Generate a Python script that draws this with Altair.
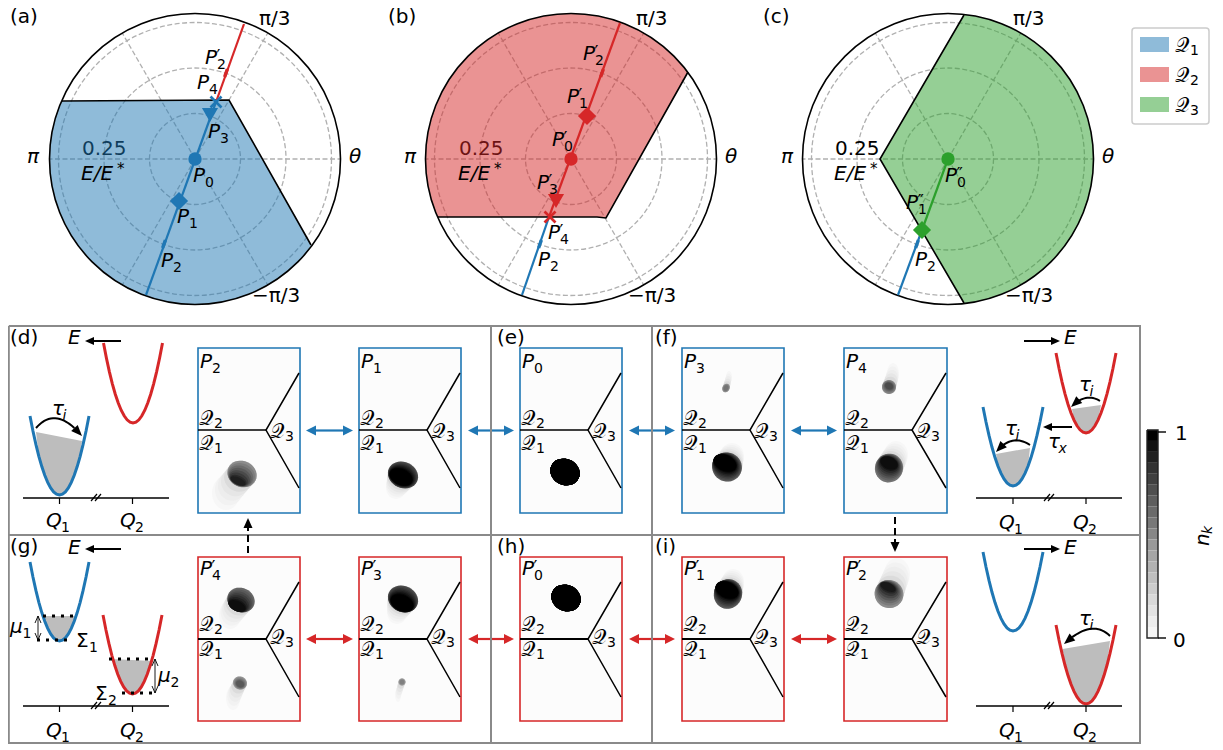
import math
import altair as alt

BLUE, RED, GREEN = "#1f77b4", "#d62728", "#2ca02c"
GRIDC, FRAMEC, GRAYFILL = "#b0b0b0", "#8a8a8a", "#bdbdbd"
FONT = "DejaVu Sans"
SCRIPT_Q = "\U0001D4AC"
FS, SS = 20, 14

# ---------- polar panels: centre x, region outline, trajectories
CY, R = 159, 145.5
RINGS = [45.5, 91, 136.5]
RAYS = [0, 60, 120, 180, 240, 300]
POLAR_CX = [195, 571, 948]
REGION_A = dict(c=BLUE, corner=[(62, 101), (229, 100), (311, 245)], a0=(311, 245), a1=(62, 101), cw=True)
REGION_B = dict(c=RED, corner=[(688, 72), (606, 218), (597, 217), (438, 217)], a0=(438, 217), a1=(688, 72), cw=True)
REGION_C = dict(c=GREEN, corner=[(964, 15), (880, 159), (964, 303)], a0=(964, 303), a1=(964, 15), cw=False)
TRAJ = [
    (BLUE, [(146, 295), (216, 102)]), (RED, [(216, 102), (244, 24)]),
    (BLUE, [(522, 295), (549, 217)]), (RED, [(549, 217), (620, 23)]),
    (GREEN, [(948, 159), (922, 230)]), (BLUE, [(922, 230), (898, 295)]),
]
MARKS = [
    (195, 159, "circle", BLUE), (179, 201, "diamond", BLUE), (210, 115, "triangle-down", BLUE),
    (571, 159, "circle", RED), (587, 116, "diamond", RED), (556, 201, "triangle-down", RED),
    (948, 159, "circle", GREEN), (922, 230, "diamond", GREEN),
]
MARK_SIZE = {"circle": 180, "diamond": 330, "triangle-down": 260}
CROSSES = [(216, 102, BLUE), (550, 217, RED)]
TINY = [(164, 244, BLUE), (226, 73, RED), (602, 73, RED), (540, 244, BLUE), (917, 244, BLUE)]

# ---------- inner panels: x0, x1, y0, y1, colour, label
PANELS = [
    (198, 300, 348, 513, BLUE, "P", "2", ""), (359, 461, 348, 513, BLUE, "P", "1", ""),
    (520, 622, 348, 513, BLUE, "P", "0", ""), (682, 784, 348, 513, BLUE, "P", "3", ""),
    (844, 947, 348, 513, BLUE, "P", "4", ""),
    (198, 300, 557, 721, RED, "P", "4", "\u2032"), (359, 461, 557, 721, RED, "P", "3", "\u2032"),
    (520, 622, 557, 721, RED, "P", "0", "\u2032"), (682, 784, 557, 721, RED, "P", "1", "\u2032"),
    (844, 947, 557, 721, RED, "P", "2", "\u2032"),
]
# body (x,y,rx,ry), core (x,y,rx,ry), tail (x,y,rx,ry), grey edge, grey core
BLOBS = [
    ((242, 474, 15, 13), (238, 481, 8, 3.5), (226, 493, 14, 17), .55, .12),
    ((403, 475, 15.5, 13), (401, 477, 12, 8), (396, 488, 10, 11), .3, .0),
    ((565, 472, 15, 13), (565, 472, 15, 13), None, .0, .0),
    ((726, 388, 3.5, 4.5), (726, 388, 2, 2.5), (729, 377, 3, 6), .6, .45),
    ((727, 467, 15, 14.5), (725, 463, 12, 8), (732, 456, 12, 13), .35, .0),
    ((889, 387, 7, 7), (889, 386, 4, 3), (893, 374, 6, 11), .55, .3),
    ((889, 468, 14, 14.5), (889, 463, 9, 6), (896, 455, 12, 14), .45, .05),
    ((241, 600, 14, 12), (237, 606, 9, 5), (230, 615, 11, 14), .4, .05),
    ((240, 683, 7, 6.5), (240, 684, 4, 3), (233, 698, 7, 12), .6, .35),
    ((403, 599, 15.5, 13), (402, 603, 12, 8), (397, 612, 10, 12), .3, .0),
    ((402, 682, 3.5, 3.5), (402, 682, 2, 2), (398, 695, 3, 7), .65, .5),
    ((566, 598, 15, 13), (566, 598, 15, 13), None, .0, .0),
    ((728, 594, 14, 15), (727, 590, 12, 8), (733, 582, 11, 13), .35, .0),
    ((889, 594, 14.5, 14), (888, 587, 8, 4), (897, 574, 13, 16), .55, .1),
]
BLOB_TILT = 25
TAIL_GREYS = [.97, .95, .93, .9, .86, .8]
BODY_STEPS = [0, .15, .3, .45, .6, .75, .9, 1]

# ---------- sketches: (x centre, y bottom, half width, y top, colour)
PARAB_U = [-1, -.9, -.8, -.7, -.6, -.5, -.4, -.3, -.2, -.1, 0, .1, .2, .3, .4, .5, .6, .7, .8, .9, 1]
PARAB_V = [1, .81, .64, .49, .36, .25, .16, .09, .04, .01, 0, .01, .04, .09, .16, .25, .36, .49, .64, .81, 1]
PARABS = [
    (133, 423, 29.5, 343, RED), (59.5, 495, 29.5, 416, BLUE),
    (1086, 433, 30, 353, RED), (1013, 486, 30, 407, BLUE),
    (59.5, 641, 29.5, 562, BLUE), (132.5, 694, 29.5, 615, RED),
    (1013, 631, 30, 552, BLUE), (1086, 704, 30, 625, RED),
]
# parabola index, left fill edge, right fill edge
FILLS = [
    (1, (36, 432), (82, 441)), (2, (1072, 409), (1101, 405)), (3, (996, 454), (1030, 448)),
    (4, (44, 616), (75, 616)), (5, (111, 659), (153, 661)), (7, (1062.5, 649), (1110, 641)),
]
AXES = [(23, 169, 498, 59.5, 132.5, 96), (976, 1122, 498, 1013, 1086, 1049),
        (23, 169, 706, 59.5, 132.5, 96), (976, 1122, 706, 1013, 1086, 1049)]
CURVED = [
    ((36, 428), (82, 436), (56, 405)), ((1100, 401), (1071, 407), (1086, 392)),
    ((1030, 445), (996, 452), (1012, 433)), ((1110, 636), (1064, 644), (1092, 618)),
]
ARROWS_SINGLE = [
    ((121, 341), (85, 341)), ((1024, 341), (1060, 341)), ((121, 549), (85, 549)), ((1024, 549), (1060, 549)),
    ((1072, 427), (1043, 427)),
]
DBL_X = [(306, 353), (468, 514), (629, 675), (791, 837)]
DBL_Y = [(430.5, BLUE), (639, RED)]
DASHED_ARROWS = [((248, 553), (248, 518)), ((895, 517), (895, 552))]
DOTTED = [((43, 616), (79, 616)), ((37, 640), (72, 640)), ((109, 659), (153, 659)), ((122, 693), (155, 693))]
THIN_DBL = [((38, 616), (38, 640)), ((155, 659), (155, 693))]
FRAME = [[(8.8, 326), (1140, 326), (1140, 743), (8.8, 743), (8.8, 326)],
         [(8.8, 535), (1140, 535)], [(491, 326), (491, 743)], [(652, 326), (652, 743)]]

# ---------- colour bar and legend
CB_GREYS = [0, .07, .13, .2, .25, .31, .37, .42, .47, .53, .6, .65, .7, .75, .8, .85, .89, .93, .96]
CB_X0, CB_X1, CB_Y0, CB_Y1 = 1147, 1158, 430, 638
LEGEND_BOX = (1132, 1209, 28, 124)
LEGEND = [(37, 52, BLUE, "1"), (67, 82, RED, "2"), (97, 112, GREEN, "3")]

# ---------- text: plain labels
PLAIN = [("(a)", 10, 23), ("(b)", 388, 23), ("(c)", 763, 23), ("(d)", 10, 344), ("(e)", 497, 344), ("(f)", 655, 344),
         ("(g)", 10, 553), ("(h)", 497, 553), ("(i)", 655, 553),
         ("\u03c0/3", 259, 25), ("\u03c0/3", 636, 25), ("\u03c0/3", 1013, 25),
         ("\u2212\u03c0/3", 252, 302), ("\u2212\u03c0/3", 628, 302), ("\u2212\u03c0/3", 1005, 302),
         ("1", 1175, 440), ("0", 1173, 647)]
UNDER = [("0.25", 82, 155), ("0.25", 459, 155), ("0.25", 835, 155)]
ITALIC = [("\u03b8", 349, 163), ("\u03b8", 725, 163), ("\u03b8", 1102, 163),
          ("\u03c0", 27, 163), ("\u03c0", 404, 163), ("\u03c0", 781, 163),
          ("E/E", 81, 180), ("E/E", 458, 180), ("E/E", 834, 180),
          ("E", 68, 344), ("E", 1064, 344), ("E", 68, 554), ("E", 1064, 554)]
STARS = [(117, 174), (494, 174), (870, 174)]
# base, sub, prime, x, y
SUBBED = [
    ("P", "2", "\u2032", 205, 64), ("P", "4", "", 197, 89), ("P", "3", "", 208, 138), ("P", "0", "", 193, 182),
    ("P", "1", "", 177, 223), ("P", "2", "", 161, 267),
    ("P", "2", "\u2032", 583, 60), ("P", "1", "\u2032", 567, 103), ("P", "0", "\u2032", 552, 146),
    ("P", "3", "\u2032", 537, 189), ("P", "4", "\u2032", 548, 239), ("P", "2", "", 538, 266),
    ("P", "0", "\u2033", 945, 182), ("P", "1", "\u2033", 906, 209), ("P", "2", "", 915, 266),
    ("Q", "1", "", 46, 527), ("Q", "2", "", 120, 527), ("Q", "1", "", 999, 529), ("Q", "2", "", 1073, 529),
    ("Q", "1", "", 46, 737), ("Q", "2", "", 120, 737), ("Q", "1", "", 999, 737), ("Q", "2", "", 1073, 737),
    ("\u03c4", "i", "", 52, 415), ("\u03c4", "i", "", 1079, 391), ("\u03c4", "i", "", 1005, 435),
    ("\u03c4", "x", "", 1048, 448), ("\u03c4", "i", "", 1079, 625),
    ("\u03bc", "1", "", 10, 633), ("\u03bc", "2", "", 158, 682),
    ("\u03a3", "1", "", 76, 647), ("\u03a3", "2", "", 95, 700),
]

lines, dash_grid, dash_black, dotted, polys, grid_circles, texts = [], [], [], [], [], [], []
gid = [0]


def add_line(pts, c="black", w=1.5, table=None):
    table = lines if table is None else table
    gid[0] += 1
    for i, (x, y) in enumerate(pts):
        table.append(dict(g=gid[0], i=i, x=x, y=y, c=c, w=w))


def add_poly(pts, fill, op=1.0, table=None):
    table = polys if table is None else table
    ax, ay = pts[0]
    p = "M" + "L".join(f"{x - ax:.2f},{y - ay:.2f}" for x, y in pts) + "Z"
    table.append(dict(x=ax, y=ay, path=p, fill=fill, op=op))


def head(tip, frm, c, ln=10, wd=9):
    dx, dy = tip[0] - frm[0], tip[1] - frm[1]
    L = math.hypot(dx, dy) or 1
    ux, uy = dx / L, dy / L
    bx, by = tip[0] - ux * ln, tip[1] - uy * ln
    add_poly([tip, (bx - uy * wd / 2, by + ux * wd / 2), (bx + uy * wd / 2, by - ux * wd / 2)], c)
    return (bx, by)


def arc_pts(cx, a0, a1, clockwise_screen):
    t0 = math.atan2(a0[1] - CY, a0[0] - cx)
    t1 = math.atan2(a1[1] - CY, a1[0] - cx)
    if clockwise_screen:
        while t1 < t0:
            t1 += 2 * math.pi
    else:
        while t1 > t0:
            t1 -= 2 * math.pi
    n = 80
    return [(cx + R * math.cos(t0 + (t1 - t0) * k / n), CY + R * math.sin(t0 + (t1 - t0) * k / n)) for k in range(n + 1)]


def ellipse(cx, cy, rx, ry, tilt):
    ca, sa = math.cos(math.radians(tilt)), math.sin(math.radians(tilt))
    pts = []
    for k in range(36):
        a = 2 * math.pi * k / 36
        ex, ey = rx * math.cos(a), ry * math.sin(a)
        pts.append((cx + ex * ca - ey * sa, cy + ex * sa + ey * ca))
    return pts


def grey(g):
    v = int(round(255 * g))
    return f"#{v:02x}{v:02x}{v:02x}"


def put(t, x, y, size=FS, style="normal", c="black"):
    texts.append(dict(t=t, x=x, y=y, s=size, style=style, c=c))


def subbed(base, sub, prime, x, y):
    put(base, x, y, FS, "normal" if base == "\u03a3" else "italic")
    w = {"P": 12, "Q": 15, "\u03c4": 10.5, "\u03bc": 12.5, "\u03a3": 13}.get(base, 12)
    put(sub, x + w, y + 5, SS, "italic" if sub in "ix" else "normal")
    if prime:
        put(prime, x + w - 0.5, y - 2, 17, "normal")


def script_q(sub, x, y):
    put(SCRIPT_Q, x, y, FS, "normal")
    put(sub, x + 15, y + 3, SS, "normal")


# polar grids
for cx in POLAR_CX:
    for r in RINGS:
        grid_circles.append(dict(x=cx, y=CY, sz=(2 * r) ** 2))
    for deg in RAYS:
        a = math.radians(deg)
        add_line([(cx, CY), (cx + R * math.cos(a), CY - R * math.sin(a))], GRIDC, 1.3, dash_grid)

# regions
for reg, cx in zip([REGION_A, REGION_B, REGION_C], POLAR_CX):
    arc = arc_pts(cx, reg["a0"], reg["a1"], reg["cw"])
    add_poly(reg["corner"] + arc[1:-1], reg["c"], .5)
    add_line(reg["corner"], "black", 1.6)

circles_outer = [dict(x=cx, y=CY, sz=(2 * R) ** 2) for cx in POLAR_CX]

# trajectories
for c, pts in TRAJ:
    add_line(pts, c, 2.2)
for x, y, c in CROSSES:
    add_line([(x - 5.5, y - 5.5), (x + 5.5, y + 5.5)], c, 2.6)
    add_line([(x - 5.5, y + 5.5), (x + 5.5, y - 5.5)], c, 2.6)
for x, y, c in TINY:
    add_line([(x - 1.4, y + 4), (x + 1.4, y - 4)], c, 3.4)

# inner panels
panel_rows = [dict(x=p[0], x2=p[1], y=p[2], y2=p[3], c=p[4]) for p in PANELS]
blob_rows = []
for body, core, tail, ge, gc in BLOBS:
    if tail:
        n = len(TAIL_GREYS)
        for k, g in enumerate(TAIL_GREYS):
            t = k / (n - 1)
            e = [tail[j] + (body[j] - tail[j]) * t for j in range(4)]
            add_poly(ellipse(*e, BLOB_TILT * t), grey(g), table=blob_rows)
    for t in BODY_STEPS:
        e = [body[j] + (core[j] - body[j]) * t for j in range(4)]
        add_poly(ellipse(*e, BLOB_TILT), grey(ge + (gc - ge) * t), table=blob_rows)

for x0, x1, y0, y1, c, b, s, pr in PANELS:
    yh = y0 + 82
    add_line([(x0, yh), (x0 + 68, yh)], "black", 1.5 if y0 < 500 else 2)
    add_line([(x1 - 1, y0 + 25), (x0 + 68, yh), (x1 - 1, y0 + 140)], "black", 1.5)
    subbed(b, s, pr, x0 + 2, y0 + 20 if y0 < 500 else y0 + 18)
    dy = 0 if y0 < 500 else -3
    script_q("2", x0 + 1, yh - 5 + dy)
    script_q("1", x0 + 1, yh + 20 + dy)
    script_q("3", x0 + 72, yh + 8 + dy)

# sketches
for xc, yb, hw, yt, c in PARABS:
    add_line([(xc + u * hw, yb - v * (yb - yt)) for u, v in zip(PARAB_U, PARAB_V)], c, 3)
for idx, l, r_ in FILLS:
    xc, yb, hw, yt, c = PARABS[idx]
    inner = [(xc + u * hw, yb - v * (yb - yt)) for u, v in zip(PARAB_U, PARAB_V) if l[0] < xc + u * hw < r_[0]]
    add_poly([l] + inner + [r_], GRAYFILL)
for x0, x1, y, t1, t2, br in AXES:
    add_line([(x0, y), (x1, y)], "black", 1.5)
    add_line([(t1, y), (t1, y + 6)], "black", 1.2)
    add_line([(t2, y), (t2, y + 6)], "black", 1.2)
    add_line([(br - 5, y + 3), (br + 1, y - 4)], "black", 1.2)
    add_line([(br - 1, y + 3), (br + 5, y - 4)], "black", 1.2)
for p0, p1, ctrl in CURVED:
    pts = []
    for k in range(21):
        t = k / 20
        pts.append(((1 - t) ** 2 * p0[0] + 2 * t * (1 - t) * ctrl[0] + t ** 2 * p1[0],
                    (1 - t) ** 2 * p0[1] + 2 * t * (1 - t) * ctrl[1] + t ** 2 * p1[1]))
    base = head(p1, pts[-4], "black", 11, 9)
    add_line(pts[:-3] + [base], "black", 2)
for a, b in ARROWS_SINGLE:
    base = head(b, a, "black", 9, 8)
    add_line([a, base], "black", 2)
for y, c in DBL_Y:
    for x0, x1 in DBL_X:
        b0 = head((x0, y), (x1, y), c, 10, 10)
        b1 = head((x1, y), (x0, y), c, 10, 10)
        add_line([b0, b1], c, 2.2)
for a, b in DASHED_ARROWS:
    base = head(b, a, "black", 10, 9)
    add_line([a, base], "black", 2, dash_black)
for a, b in DOTTED:
    add_line([a, b], "black", 3, dotted)
for a, b in THIN_DBL:
    add_line([(a[0] - 3, a[1] + 7), a, (a[0] + 3, a[1] + 7)], "black", .9)
    add_line([(b[0] - 3, b[1] - 7), b, (b[0] + 3, b[1] - 7)], "black", .9)
    add_line([a, b], "black", .9)

for pts in FRAME:
    add_line(pts, FRAMEC, 2)

# colour bar
n = len(CB_GREYS)
cb_rows = []
for k, g in enumerate(CB_GREYS):
    h = (CB_Y1 - CB_Y0) / n
    cb_rows.append(dict(x=CB_X0, x2=CB_X1, y=CB_Y0 + k * h, y2=CB_Y0 + (k + 1) * h, f=grey(g)))
add_line([(CB_X0, CB_Y0), (CB_X1, CB_Y0), (CB_X1, CB_Y1), (CB_X0, CB_Y1), (CB_X0, CB_Y0)], "#222222", 1.4)
add_line([(CB_X1, 432), (1166, 432)], "black", 1.4)
add_line([(CB_X1, 638), (1166, 638)], "black", 1.4)

# legend
legend_frame = [dict(x=LEGEND_BOX[0], x2=LEGEND_BOX[1], y=LEGEND_BOX[2], y2=LEGEND_BOX[3])]
legend_sw = [dict(x=1140, x2=1169, y=a, y2=b, f=c) for a, b, c, _ in LEGEND]
for a, b, c, s in LEGEND:
    script_q(s, 1175, b)

# texts
for t, x, y in PLAIN:
    put(t, x, y)
for t, x, y in ITALIC:
    put(t, x, y, FS, "italic")
for x, y in STARS:
    put("*", x, y, 15)
for row in SUBBED:
    subbed(*row)

under_rows = [dict(t=t, x=x, y=y) for t, x, y in UNDER]
mark_rows = [dict(x=x, y=y, shape=s, sz=MARK_SIZE[s], fill=c) for x, y, s, c in MARKS]
nk_rows = [dict(t="n", x=1209, y=546, s=FS), dict(t="k", x=1212, y=534, s=SS)]

X = alt.X("x:Q", axis=None, scale=alt.Scale(domain=[8, 1213], nice=False, zero=False))
Y = alt.Y("y:Q", axis=None, scale=alt.Scale(domain=[745, 8], nice=False, zero=False))
X2, Y2 = alt.X2("x2:Q"), alt.Y2("y2:Q")


def df(rows):
    return alt.Data(values=rows)


def line_layer(rows, **kw):
    return alt.Chart(df(rows)).mark_line(strokeCap="butt", strokeJoin="miter", **kw).encode(
        x=X, y=Y, detail="g:N", order="i:Q",
        color=alt.Color("c:N", scale=None), strokeWidth=alt.StrokeWidth("w:Q", scale=None))


def poly_layer(rows):
    return alt.Chart(df(rows)).mark_point(filled=True, size=4, strokeWidth=0).encode(
        x=X, y=Y, shape=alt.Shape("path:N", scale=None),
        color=alt.Color("fill:N", scale=None), opacity=alt.Opacity("op:Q", scale=None))


def text_layer(rows, style):
    return alt.Chart(df([r for r in rows if r["style"] == style])).mark_text(
        align="left", baseline="alphabetic", font=FONT, fontStyle=style).encode(
        x=X, y=Y, text="t:N", size=alt.Size("s:Q", scale=None), color=alt.Color("c:N", scale=None))


layers = [
    # grid and 0.25 labels sit under the translucent regions, like the original
    alt.Chart(df(grid_circles)).mark_point(filled=False, opacity=1, stroke=GRIDC, strokeWidth=1.3, strokeDash=[5, 2.5]).encode(
        x=X, y=Y, size=alt.Size("sz:Q", scale=None)),
    line_layer(dash_grid, strokeDash=[5, 2.5]),
    alt.Chart(df(under_rows)).mark_text(align="left", baseline="alphabetic", font=FONT, fontSize=FS, color="black").encode(
        x=X, y=Y, text="t:N"),
    alt.Chart(df(panel_rows)).mark_rect(fill="#fcfcfc").encode(x=X, x2=X2, y=Y, y2=Y2),
    poly_layer(polys),
    poly_layer(blob_rows),
    alt.Chart(df(panel_rows)).mark_rect(fillOpacity=0, strokeWidth=1.6).encode(
        x=X, x2=X2, y=Y, y2=Y2, stroke=alt.Stroke("c:N", scale=None)),
    alt.Chart(df(circles_outer)).mark_point(filled=False, opacity=1, stroke="black", strokeWidth=1.6).encode(
        x=X, y=Y, size=alt.Size("sz:Q", scale=None)),
    alt.Chart(df(cb_rows)).mark_rect().encode(x=X, x2=X2, y=Y, y2=Y2, fill=alt.Fill("f:N", scale=None)),
    line_layer(lines),
    line_layer(dash_black, strokeDash=[7, 4]),
    line_layer(dotted, strokeDash=[3, 6]),
    alt.Chart(df(mark_rows)).mark_point(filled=True, opacity=1, strokeWidth=0).encode(
        x=X, y=Y, shape=alt.Shape("shape:N", scale=None), size=alt.Size("sz:Q", scale=None),
        color=alt.Color("fill:N", scale=None)),
    alt.Chart(df(legend_frame)).mark_rect(fill="white", fillOpacity=.8, stroke="#cccccc", strokeWidth=1.5, cornerRadius=3).encode(
        x=X, x2=X2, y=Y, y2=Y2),
    alt.Chart(df(legend_sw)).mark_rect(opacity=.5).encode(x=X, x2=X2, y=Y, y2=Y2, fill=alt.Fill("f:N", scale=None)),
    text_layer(texts, "normal"),
    text_layer(texts, "italic"),
    alt.Chart(df(nk_rows)).mark_text(align="left", baseline="alphabetic", font=FONT, fontStyle="italic", angle=270).encode(
        x=X, y=Y, text="t:N", size=alt.Size("s:Q", scale=None)),
]

chart = alt.layer(*layers).properties(
    width=1205, height=737, padding=0, autosize=alt.AutoSizeParams(type="none"), background="white"
).configure_view(stroke=None)

chart.save("out.html", embed_options={"renderer": "svg", "actions": False})
